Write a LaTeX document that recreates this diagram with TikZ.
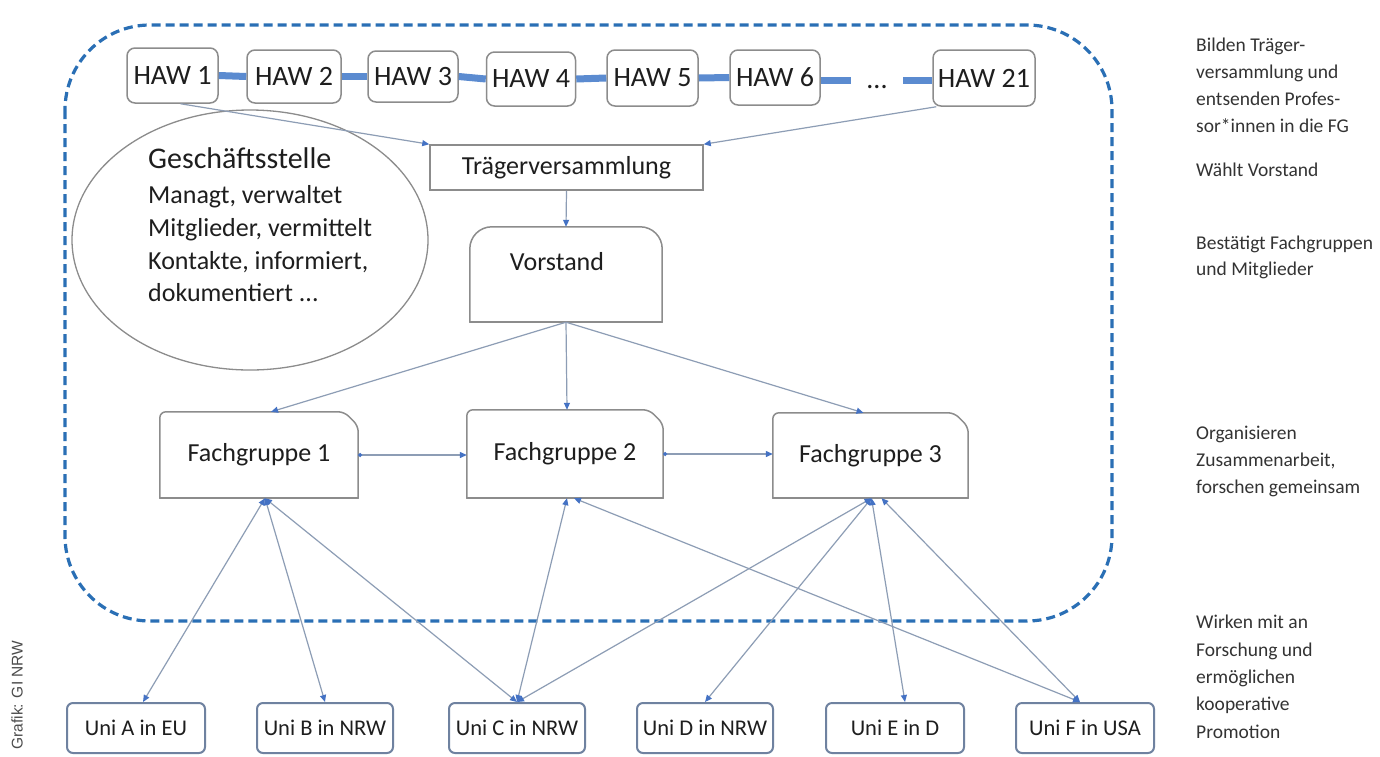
\documentclass[tikz,border=0pt]{standalone}
\usepackage{fontspec}
\setmainfont{Carlito}
\newfontfamily\arialfont{Liberation Sans}
\usetikzlibrary{arrows.meta,calc,shapes.geometric}
\definecolor{dashblue}{HTML}{2A6FB5}
\definecolor{barblue}{HTML}{5B8BD0}
\definecolor{boxgray}{HTML}{8C8C8C}
\definecolor{linegray}{HTML}{8D9DB5}
\definecolor{tipblue}{HTML}{4472C4}
\definecolor{unibord}{HTML}{6F82A0}
\definecolor{txt}{HTML}{1E1E1E}
\definecolor{sidetxt}{HTML}{333333}
\begin{document}
\begin{tikzpicture}[x=1pt,y=-1pt,
  every node/.style={text=txt, inner sep=0pt},
  mainfont/.style={font=\fontsize{26}{30}\selectfont},
  hawbox/.style={draw=boxgray, line width=1.5pt, rounded corners=8pt, font=\fontsize{28}{30}\selectfont},
  bar/.style={draw=barblue, line width=7pt},
  outline/.style={draw=boxgray, line width=1.5pt, line cap=round, line join=round},
  conn/.style={draw=linegray, line width=1.2pt, -{Triangle[length=7pt,width=6pt,color=tipblue]}},
  biconn/.style={draw=linegray, line width=1.2pt, {Triangle[length=7pt,width=6pt,color=tipblue]}-{Triangle[length=7pt,width=6pt,color=tipblue]}},
  hconn/.style={draw=linegray, line width=1.2pt, {Circle[length=4pt,color=tipblue]}-{Triangle[length=7pt,width=6pt,color=tipblue]}},
  unibox/.style={draw=unibord, line width=2pt, rounded corners=6pt, minimum height=50pt, font=\fontsize{22.5}{24}\selectfont},
  sidetext/.style={anchor=base west, text=sidetxt, font=\fontsize{19.5}{22}\selectfont},
  dashbox/.style={draw=dashblue, line width=3.2pt, dash pattern=on 9pt off 5pt, rounded corners=85pt}
]
\useasboundingbox (0,0) rectangle (1380,756);
\fill[white] (0,0) rectangle (1380,756);

% dashed frame
\draw[dashbox] (65,25) rectangle (1112,621);

% HAW row
\node[hawbox, minimum width=91pt, minimum height=55pt] (haw1) at (172.5,75.5) {HAW 1};
\node[hawbox, minimum width=94pt, minimum height=53pt] (haw2) at (294,76.5) {HAW 2};
\node[hawbox, minimum width=90pt, minimum height=51pt] (haw3) at (413,76.5) {HAW 3};
\node[hawbox, minimum width=89pt, minimum height=54pt] (haw4) at (531,79) {HAW 4};
\node[hawbox, minimum width=91pt, minimum height=56pt] (haw5) at (652.5,78) {HAW 5};
\node[hawbox, minimum width=90pt, minimum height=55pt] (haw6) at (775,77.5) {HAW 6};
\node[hawbox, minimum width=102pt, minimum height=56pt] (haw21) at (984,78) {HAW 21};
\node[anchor=base, font=\fontsize{28}{30}\selectfont] (dots) at (877,88) {...};
\coordinate (d1) at (851,80);
\coordinate (d2) at (903,80);

\draw[bar] (haw1.east) -- (haw2.west);
\draw[bar] (haw2.east) -- (haw3.west);
\draw[bar] (haw3.east) -- (haw4.west);
\draw[bar] (haw4.east) -- (haw5.west);
\draw[bar] (haw5.east) -- (haw6.west);
\draw[bar] (haw6.east |- d1) -- (d1);
\draw[bar] (d2) -- (d2 -| haw21.west);

% Geschaeftsstelle
\node[ellipse, draw=boxgray, line width=1.3pt, minimum width=356pt, minimum height=260pt] (gs) at (250,240) {};
\node[anchor=base west, font=\fontsize{30}{32}\selectfont] (gs0) at (148,168) {Geschäftsstelle};
\node[anchor=base west, mainfont] (gs1) at (148,203) {Managt, verwaltet};
\node[anchor=base west, mainfont] (gs2) at (148,236) {Mitglieder, vermittelt};
\node[anchor=base west, mainfont] (gs3) at (148,269) {Kontakte, informiert,};
\node[anchor=base west, mainfont] (gs4) at (148,301) {dokumentiert ...};

% Traegerversammlung
\node[draw=boxgray, line width=1.5pt, minimum width=273pt, minimum height=45pt, mainfont] (traeger) at (566.5,167.5) {Trägerversammlung};

% Vorstand
\node[minimum width=192pt, minimum height=95pt] (v) at (566,274.5) {};
\draw[outline, rounded corners=22pt] (v.south west) -- (v.north west) -- (v.north east) -- (v.south east);
\draw[outline] (v.south west) -- (v.south east);
\node[mainfont] (vtext) at (557,262) {Vorstand};

% Fachgruppen
\node[minimum width=198pt, minimum height=86pt, mainfont] (fg1) at (259,455) {Fachgruppe 1};
\node[minimum width=196pt, minimum height=88pt, mainfont] (fg2) at (565,454) {Fachgruppe 2};
\node[minimum width=195pt, minimum height=85pt, mainfont] (fg3) at (870.5,455.5) {Fachgruppe 3};
\foreach \n in {fg1,fg2,fg3}{
  \draw[outline, rounded corners=6pt] (\n.south west) -- (\n.north west) -- ([xshift=-14pt]\n.north east) -- ([yshift=-14pt]\n.north east) -- (\n.south east);
  \draw[outline] (\n.south west) -- (\n.south east);
}

% Unis
\node[unibox, minimum width=138pt] (unia) at (136,728) {Uni A in EU};
\node[unibox, minimum width=136pt] (unib) at (325,728) {Uni B in NRW};
\node[unibox, minimum width=136pt] (unic) at (517,728) {Uni C in NRW};
\node[unibox, minimum width=136pt] (unid) at (705,728) {Uni D in NRW};
\node[unibox, minimum width=138pt] (unie) at (895,728) {Uni E in D};
\node[unibox, minimum width=138pt] (unif) at (1085,728) {Uni F in USA};

% upper connectors
\draw[conn] ([xshift=8pt]haw1.south) -- (traeger.north west);
\draw[conn] ([xshift=4pt]haw21.south west) -- (traeger.north east);
\draw[conn] (traeger.south) -- (v.north);
\draw[conn] (v.south) -- ([xshift=12pt]fg1.north);
\draw[conn] (v.south) -- ([xshift=2pt]fg2.north);
\draw[conn] (v.south) -- ([xshift=-7pt]fg3.north);
\draw[hconn] (fg1.east) -- (fg1.east -| fg2.west);
\draw[hconn] (fg2.east) -- (fg2.east -| fg3.west);

% lower connectors
\coordinate (b1) at ([xshift=6pt]fg1.south);
\coordinate (b3) at ([xshift=1pt]fg3.south);
\draw[biconn] (b1) -- ([xshift=7pt]unia.north);
\draw[biconn] (b1) -- (unib.north);
\draw[biconn] (b1) -- (unic.north);
\draw[biconn] (unic.north) -- ([xshift=2pt]fg2.south);
\draw[biconn] ([xshift=9pt]fg2.south) -- ([xshift=-5pt]unif.north);
\draw[biconn] (b3) -- (unic.north);
\draw[biconn] (b3) -- (unid.north);
\draw[biconn] (b3) -- ([xshift=10pt]unie.north);
\draw[biconn] ([xshift=10pt]b3) -- ([xshift=-5pt]unif.north);

% side texts
\foreach \t/\y [count=\i] in {Bilden Träger-/45, versammlung und/72, entsenden Profes-/99, sor*innen in die FG/126, Wählt Vorstand/170, Bestätigt Fachgruppen/243, und Mitglieder/269, Organisieren/433, {Zusammenarbeit,}/460, forschen gemeinsam/487, Wirken mit an/622, Forschung und/650, ermöglichen/677, kooperative/704, Promotion/732}{
  \node[sidetext] (side\i) at (1196,\y+6) {\t};
}

% credit
\node[rotate=90, text=black!70, font=\arialfont\fontsize{15.5}{16}\selectfont] (credit) at (17,695) {Grafik: GI NRW};
\end{tikzpicture}
\end{document}
